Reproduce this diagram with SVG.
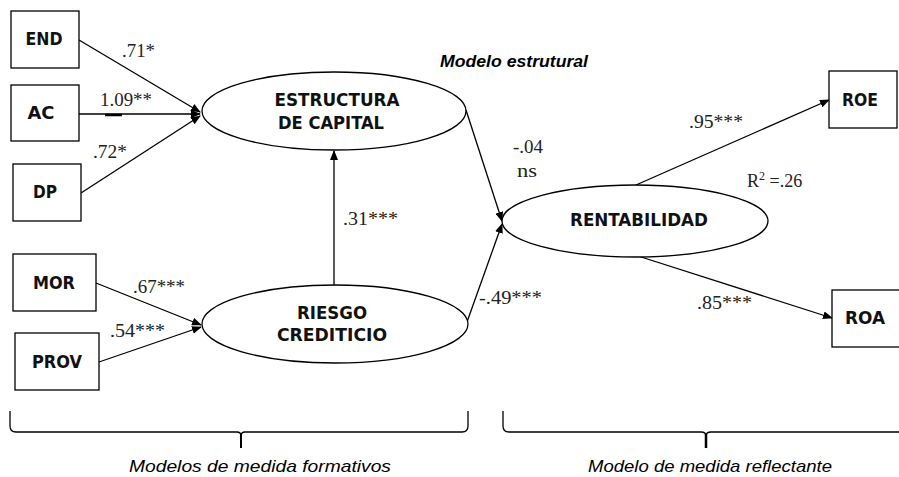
<svg xmlns="http://www.w3.org/2000/svg" width="899" height="477" viewBox="0 0 899 477">
<style>
.box{fill:#fff;stroke:#000;stroke-width:1.3}
.ell{fill:#fff;stroke:#000;stroke-width:1.3}
.nl{font-family:"DejaVu Sans Condensed","DejaVu Sans",sans-serif;font-weight:bold;font-size:17px;fill:#111;text-anchor:middle}
.cl{font-family:"Liberation Serif",serif;font-size:18px;fill:#222}
.it{font-family:"Liberation Sans",Arial,sans-serif;font-style:italic;font-weight:bold;font-size:16px;fill:#000}
.ct{font-family:"Liberation Sans",Arial,sans-serif;font-style:italic;font-size:17px;fill:#000;text-anchor:middle}
.ln{stroke:#000;stroke-width:1.3;fill:none}
</style>
<defs>
<marker id="ah" markerWidth="10" markerHeight="8" refX="9" refY="4" orient="auto" markerUnits="userSpaceOnUse">
<path d="M0,0 L10,4 L0,8 z" fill="#000"/>
</marker>
</defs>
<g id="connectors">
<line class="ln" x1="79" y1="40" x2="200" y2="112" marker-end="url(#ah)"/>
<line class="ln" x1="79" y1="114" x2="200" y2="114" marker-end="url(#ah)"/>
<line x1="105" y1="115" x2="122" y2="115" stroke="#000" stroke-width="2.5"/>
<line class="ln" x1="81" y1="193" x2="200" y2="116" marker-end="url(#ah)"/>
<line class="ln" x1="96" y1="283" x2="201" y2="325" marker-end="url(#ah)"/>
<line class="ln" x1="99" y1="362" x2="201" y2="327" marker-end="url(#ah)"/>
<line class="ln" x1="334" y1="285" x2="334" y2="151" marker-end="url(#ah)"/>
<line class="ln" x1="466" y1="110" x2="502" y2="221" marker-end="url(#ah)"/>
<line class="ln" x1="467" y1="322" x2="502" y2="224" marker-end="url(#ah)"/>
<line class="ln" x1="636" y1="185" x2="829" y2="100" marker-end="url(#ah)"/>
<line class="ln" x1="638" y1="256" x2="832" y2="318" marker-end="url(#ah)"/>
<path class="ln" d="M10,411 L10,426 Q10,432 16,432 L237,432 Q241,432 241,436 L241,448 M241,436 Q241,432 245,432 L462,432 Q468,432 468,426 L468,411"/>
<path class="ln" d="M503,411 L503,426 Q503,432 509,432 L701,432 Q706,432 706,436 L706,448 M706,436 Q706,432 711,432 L899,432"/>
<line x1="706" y1="434" x2="706" y2="448" stroke="#000" stroke-width="2.5"/>
<line x1="241" y1="434" x2="241" y2="448" stroke="#000" stroke-width="2"/>
</g>
<g id="END"><rect class="box" x="11" y="11" width="68" height="57"/><text class="nl" x="44" y="45" textLength="37" lengthAdjust="spacingAndGlyphs">END</text></g>
<g id="AC"><rect class="box" x="11" y="85" width="68" height="56"/><text class="nl" x="41" y="119" textLength="27" lengthAdjust="spacingAndGlyphs">AC</text></g>
<g id="DP"><rect class="box" x="13" y="164" width="68" height="57"/><text class="nl" x="45" y="198" textLength="24" lengthAdjust="spacingAndGlyphs">DP</text></g>
<g id="MOR"><rect class="box" x="13" y="254" width="83" height="57"/><text class="nl" x="54" y="289" textLength="42" lengthAdjust="spacingAndGlyphs">MOR</text></g>
<g id="PROV"><rect class="box" x="15" y="333" width="84" height="57"/><text class="nl" x="57" y="368" textLength="50" lengthAdjust="spacingAndGlyphs">PROV</text></g>
<g id="ROE"><rect class="box" x="829" y="71" width="68" height="57"/><text class="nl" x="860" y="106" textLength="36" lengthAdjust="spacingAndGlyphs">ROE</text></g>
<g id="ROA"><rect class="box" x="832" y="290" width="70" height="57"/><text class="nl" x="865" y="324" textLength="40" lengthAdjust="spacingAndGlyphs">ROA</text></g>
<g id="ESTRUCTURA"><ellipse class="ell" cx="334" cy="111" rx="132" ry="39"/><text class="nl" x="337" y="106" textLength="125" lengthAdjust="spacingAndGlyphs">ESTRUCTURA</text><text class="nl" x="331" y="129" textLength="106" lengthAdjust="spacingAndGlyphs">DE CAPITAL</text></g>
<g id="RIESGO"><ellipse class="ell" cx="335" cy="324" rx="133" ry="39"/><text class="nl" x="332" y="319" textLength="70" lengthAdjust="spacingAndGlyphs">RIESGO</text><text class="nl" x="332" y="341" textLength="110" lengthAdjust="spacingAndGlyphs">CREDITICIO</text></g>
<g id="RENTABILIDAD"><ellipse class="ell" cx="635" cy="221" rx="133" ry="36"/><text class="nl" x="639" y="226" textLength="138" lengthAdjust="spacingAndGlyphs">RENTABILIDAD</text></g>
<g id="labels">
<text class="cl" x="122" y="57" textLength="33" lengthAdjust="spacingAndGlyphs">.71*</text>
<text class="cl" x="100" y="106" textLength="52" lengthAdjust="spacingAndGlyphs">1.09**</text>
<text class="cl" x="93" y="158" textLength="34" lengthAdjust="spacingAndGlyphs">.72*</text>
<text class="cl" x="133" y="293" textLength="52" lengthAdjust="spacingAndGlyphs">.67***</text>
<text class="cl" x="110" y="337" textLength="55" lengthAdjust="spacingAndGlyphs">.54***</text>
<text class="cl" x="343" y="225" textLength="55" lengthAdjust="spacingAndGlyphs">.31***</text>
<text class="cl" x="513" y="153" textLength="30" lengthAdjust="spacingAndGlyphs">-.04</text>
<text class="cl" x="517" y="177" textLength="20" lengthAdjust="spacingAndGlyphs">ns</text>
<text class="cl" x="479" y="304" textLength="63" lengthAdjust="spacingAndGlyphs">-.49***</text>
<text class="cl" x="689" y="128" textLength="54" lengthAdjust="spacingAndGlyphs">.95***</text>
<text class="cl" x="747" y="187">R<tspan font-size="12" dy="-7">2</tspan><tspan dy="7"> =.26</tspan></text>
<text class="cl" x="697" y="309" textLength="55" lengthAdjust="spacingAndGlyphs">.85***</text>
<text class="it" x="440" y="67" textLength="148" lengthAdjust="spacingAndGlyphs">Modelo estrutural</text>
<text class="ct" x="260" y="472" textLength="262" lengthAdjust="spacingAndGlyphs">Modelos de medida formativos</text>
<text class="ct" x="710" y="472" textLength="244" lengthAdjust="spacingAndGlyphs">Modelo de medida reflectante</text>
</g>
</svg>
